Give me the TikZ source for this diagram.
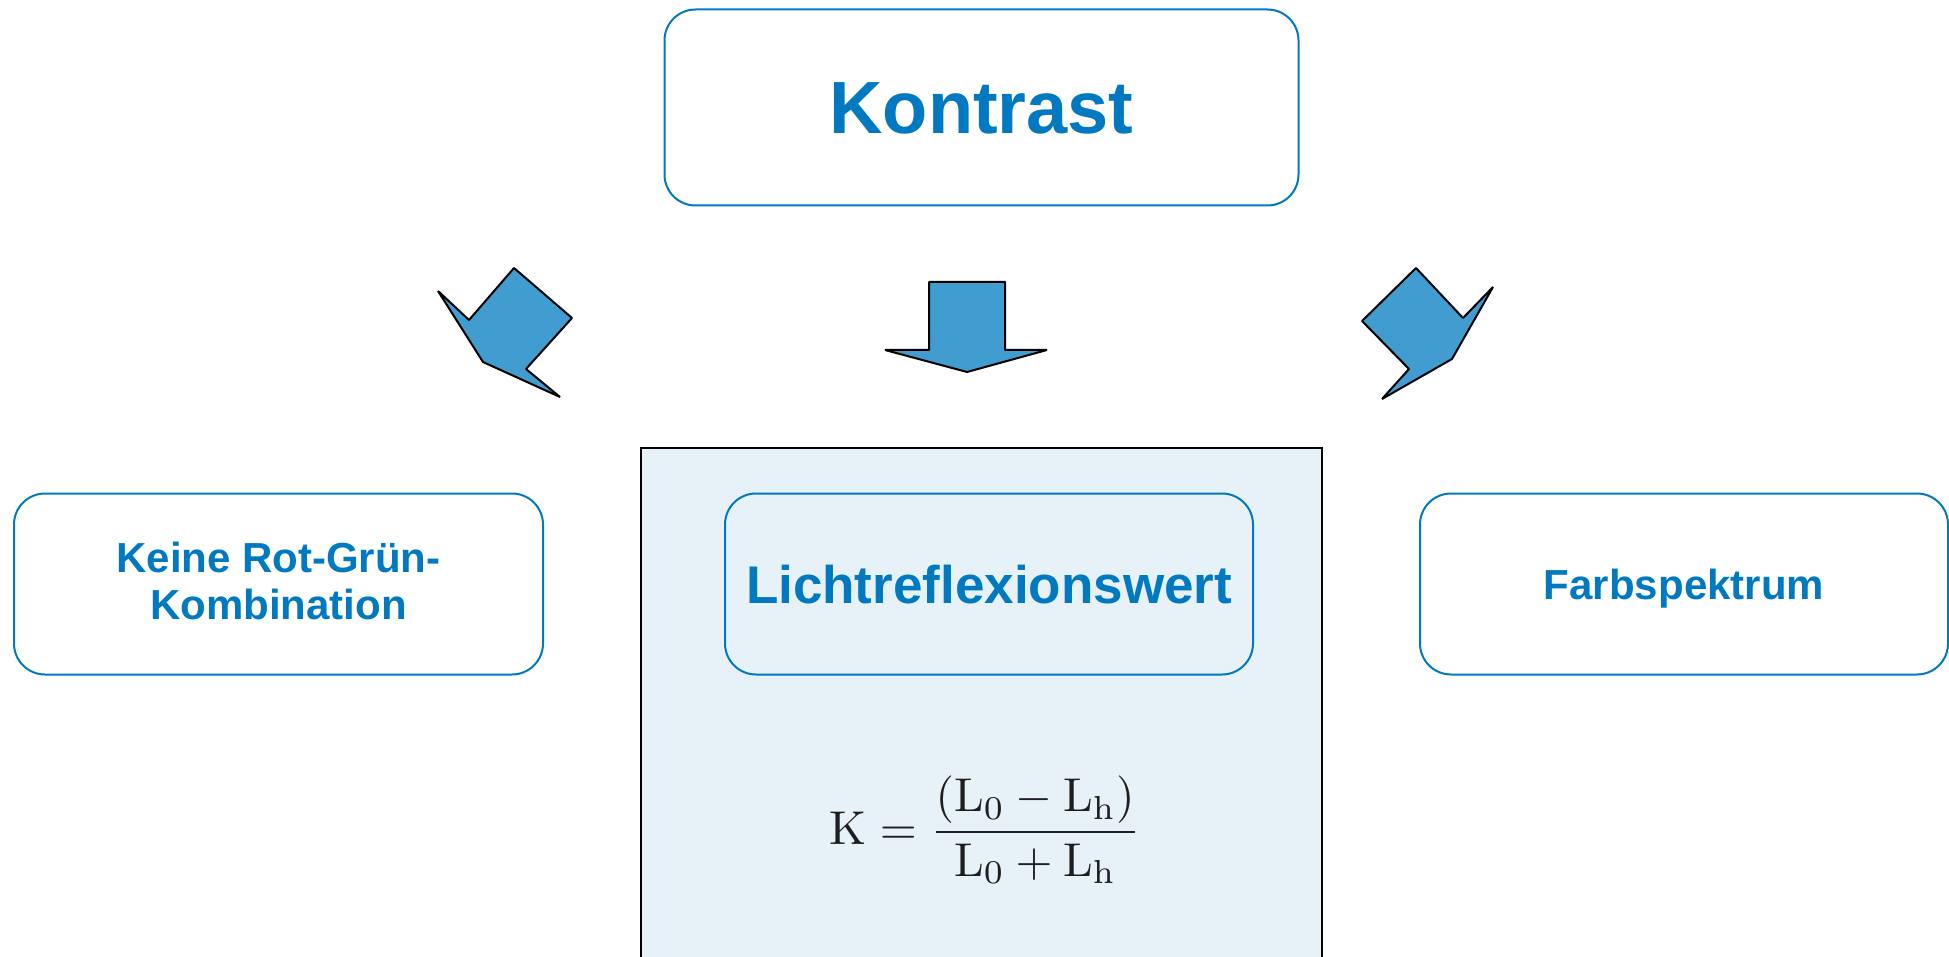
\documentclass[tikz,border=0pt]{standalone}
\usepackage{amsmath}
\usepackage{fontspec}
\setsansfont{Liberation Sans}
\usetikzlibrary{positioning}
\definecolor{boxblue}{HTML}{0079C1}
\definecolor{arrowblue}{HTML}{419DD0}
\definecolor{panelblue}{HTML}{E6F1F8}
\definecolor{formulagray}{HTML}{1E1E1E}
\tikzset{
  topicbox/.style={rectangle,rounded corners=31pt,draw=boxblue,line width=2pt,
    text=boxblue,font=\sffamily\bfseries,align=center,inner sep=0pt},
  blockarrow/.style={fill=arrowblue,draw=black,line width=2pt,line join=bevel}
}
\begin{document}
\begin{tikzpicture}[x=1pt,y=-1pt]
  \useasboundingbox (0,0) rectangle (1949,957);
  \clip (0,0) rectangle (1949,957);
  % panel behind the middle box
  \draw[fill=panelblue,draw=black,line width=2pt] (641,448) rectangle (1322,970);
  \begin{scope}[every node/.style={topicbox}]
    \node[minimum width=634pt,minimum height=196pt,text height=66pt,text depth=13pt,
      font=\sffamily\bfseries\fontsize{74}{80}\selectfont]
      (kontrast) at (981.5,107.5) {Kontrast};
    \node[minimum width=529pt,minimum height=181pt,text depth=6pt,
      font=\sffamily\bfseries\fontsize{42}{47}\selectfont]
      (rotgruen) at (278.5,584) {Keine Rot-Grün-\\Kombination};
    \node[minimum width=528pt,minimum height=181pt,text height=47pt,text depth=9pt,fill=panelblue,
      font=\sffamily\bfseries\fontsize{53}{60}\selectfont]
      (licht) at (989,584) {Lichtreflexionswert};
    \node[minimum width=528pt,minimum height=181pt,text height=38pt,text depth=7pt,
      font=\sffamily\bfseries\fontsize{42}{47}\selectfont]
      (farbe) at (1684,584) {Farbspektrum};
  \end{scope}
  \node[text=formulagray] (formel) at (985,830)
    {\scalebox{4.75}{$\displaystyle \mathrm{K}=\frac{(\mathrm{L}_0-\mathrm{L}_\mathrm{h})}{\mathrm{L}_0+\mathrm{L}_\mathrm{h}}$}};
  % block arrows
  \draw[blockarrow] (438,291) -- (469,320) -- (514,268) -- (572,318) -- (526,369) -- (560,397) -- (483,362) -- cycle;
  \draw[blockarrow] (929,282) -- (1005,282) -- (1005,350) -- (1047,350) -- (967,372) -- (885,350) -- (929,350) -- cycle;
  \draw[blockarrow] (1416,268) -- (1463,318) -- (1493,287) -- (1452,359) -- (1382,399) -- (1409,369) -- (1362,321) -- cycle;
\end{tikzpicture}
\end{document}
